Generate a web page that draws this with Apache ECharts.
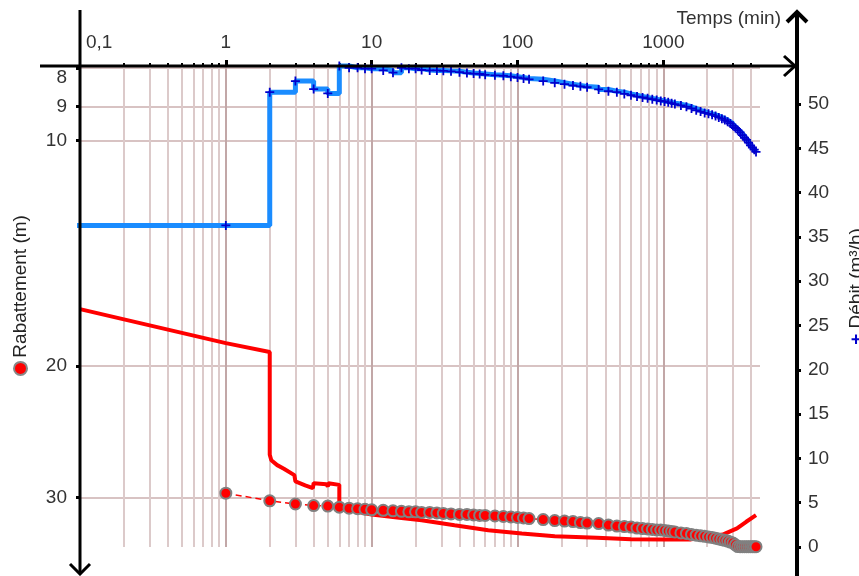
<!DOCTYPE html>
<html>
<head>
<meta charset="utf-8">
<script src="https://cdn.jsdelivr.net/npm/echarts@6/dist/echarts.min.js"></script>
<style>
  html, body { margin: 0; padding: 0; background: #fff; }
  #chart { width: 859px; height: 576px; }
</style>
</head>
<body>
<div id="chart"></div>
<script>
// temps des mesures (min)
const temps = [1, 2, 3, 4, 5, 6, 7, 8, 9, 10, 12, 14, 16, 18, 20, 22, 25, 28, 31, 35,
  40, 45, 50, 55, 60, 70, 80, 90, 100, 110, 120, 150, 180, 210, 240, 270, 300, 360, 420, 480,
  540, 600, 660, 720, 780, 840, 900, 960, 1020, 1080, 1140, 1200, 1320, 1440, 1560, 1680, 1800, 1920, 2040, 2160,
  2280, 2400, 2520, 2640, 2760, 2880, 3000, 3120, 3240, 3360, 3480, 3600, 3720, 3840, 3960, 4080, 4200, 4320];

// débit mesuré (m3/h)
const debit = [36.3, 51.35, 52.6, 51.7, 51.2, 54.3, 54.1, 54.1, 54.0, 54.0, 53.8, 53.55, 54.1, 54.0, 54.0, 53.85, 53.8, 53.8, 53.75, 53.7,
  53.6, 53.5, 53.45, 53.4, 53.3, 53.25, 53.2, 53.1, 53.0, 52.9, 52.8, 52.6, 52.4, 52.25, 52.1, 52.0, 51.9, 51.65, 51.45, 51.35,
  51.15, 51.0, 50.85, 50.75, 50.65, 50.55, 50.45, 50.35, 50.3, 50.2, 50.1, 50.0, 49.85, 49.7, 49.5, 49.3, 49.15, 49.0, 48.9, 48.8,
  48.65, 48.5, 48.35, 48.2, 48.0, 47.8, 47.55, 47.3, 47.05, 46.8, 46.5, 46.2, 45.95, 45.65, 45.35, 45.1, 44.85, 44.6];

// rabattement mesuré (m)
const rabattement = [29.6, 30.3, 30.6, 30.75, 30.8, 30.9, 31.0, 31.05, 31.1, 31.15, 31.2, 31.25, 31.3, 31.35, 31.35, 31.4, 31.4, 31.45, 31.5, 31.55,
  31.6, 31.6, 31.65, 31.7, 31.7, 31.75, 31.8, 31.85, 31.9, 31.95, 32.0, 32.1, 32.2, 32.25, 32.3, 32.4, 32.45, 32.5, 32.65, 32.75,
  32.8, 32.85, 32.95, 33.0, 33.05, 33.1, 33.15, 33.15, 33.2, 33.25, 33.3, 33.35, 33.45, 33.5, 33.6, 33.68, 33.75, 33.8, 33.87, 33.92,
  34.0, 34.08, 34.15, 34.22, 34.3, 34.4, 34.5, 34.7, 34.88, 34.9, 34.9, 34.9, 34.9, 34.9, 34.9, 34.9, 34.9, 34.9];

// palier de débit avant la première mesure
const debutDebit = [0.085, 36.3];

// courbe calculée (modèle)
const tempsModele = [0.1, 1, 2, 2, 2.05, 2.25, 2.5, 2.95, 3, 3.5, 3.95, 4, 4.9, 5, 5.05, 6, 6,
  10, 16, 22, 37, 63, 107, 180, 350, 600, 1000, 1550, 2100, 2600, 3200, 3700, 4320];
const rabattementModele = [16.8, 18.65, 19.17, 26.3, 26.75, 27.15, 27.45, 28.0, 28.55, 28.9, 29.15, 28.7, 28.8, 29.0, 28.7, 28.85, 31.0,
  31.6, 31.96, 32.16, 32.66, 33.17, 33.5, 33.79, 33.96, 34.1, 34.12, 34.12, 33.86, 33.58, 32.99, 32.32, 31.66];

// graduations
const graduationsTemps = [0.1, 1, 10, 100, 1000];
const graduationsTempsSecondaires = [0.2, 0.3, 0.4, 0.5, 0.6, 0.7, 0.8, 0.9, 2, 3, 4, 5, 6, 7, 8, 9,
  20, 30, 40, 50, 60, 70, 80, 90, 200, 300, 400, 500, 600, 700, 800, 900, 2000, 3000, 4000];
const graduationsRabattement = [8, 9, 10, 20, 30];
const graduationsDebit = [0, 5, 10, 15, 20, 25, 30, 35, 40, 45, 50];

const font = 'Liberation Sans, Arial, sans-serif';
const txt = '#333';
const plusPath = 'path://M4,0 H6 V4 H10 V6 H6 V10 H4 V6 H0 V4 H4 Z';

const chart = echarts.init(document.getElementById('chart'));

// axes prolongés avec flèches
const axisArrows = [
  [[40, 66], [795, 66]],
  [[784, 56], [795, 66], [784, 76]],
  [[80, 10], [80, 574]],
  [[70, 564], [80, 574], [90, 564]]
].map(pts => ({
  type: 'polyline', silent: true, z: 100,
  shape: { points: pts },
  style: { stroke: '#000', lineWidth: 3, fill: null }
})).concat([
  [[797, 12], [797, 576]],
  [[787, 22], [797, 12], [807, 22]]
].map(pts => ({
  type: 'polyline', silent: true, z: 100,
  shape: { points: pts },
  style: { stroke: '#000', lineWidth: 4, fill: null }
})));

const option = {
  animation: false,
  textStyle: { fontFamily: font },
  grid: { left: 80, top: 66, width: 680, height: 481, outerBoundsMode: 'none' },
  graphic: axisArrows,
  xAxis: [
    {
      type: 'log', logBase: 10, min: 0.1, max: 4600, position: 'top',
      axisLine: { show: false, onZero: false },
      axisTick: { customValues: [1, 10, 100, 1000], length: 6, lineStyle: { color: '#000', width: 3 } },
      axisLabel: {
        customValues: graduationsTemps, margin: 14, fontSize: 19, color: txt,
        alignMinLabel: 'left',
        formatter: v => {
          const s = String(parseFloat(Number(v).toPrecision(6))).replace('.', ',');
          return Math.abs(v - 0.1) < 1e-9 ? '{first|' + s + '}' : s;
        },
        rich: { first: { fontSize: 19, color: txt, padding: [0, 0, 0, 6] } }
      },
      splitLine: { show: true, lineStyle: { color: '#c2a7a7', width: 2 } },
      name: 'Temps (min)', nameLocation: 'end', nameGap: 21,
      nameTextStyle: { fontSize: 19, color: txt, align: 'right', verticalAlign: 'bottom', padding: [0, 0, 38, 0] }
    },
    {
      // quadrillage secondaire
      type: 'log', logBase: 10, min: 0.1, max: 4600, position: 'top',
      axisLine: { show: false, onZero: false },
      axisTick: { customValues: graduationsTempsSecondaires, length: 3, lineStyle: { color: '#000', width: 2 } },
      axisLabel: { show: false },
      splitLine: { show: true, lineStyle: { color: '#dccaca', width: 2 } }
    }
  ],
  yAxis: [
    {
      type: 'log', logBase: 10, inverse: true, min: 7.95, max: 34.93, position: 'left',
      axisLine: { show: false, onZero: false },
      axisTick: { customValues: graduationsRabattement, length: 4, lineStyle: { color: '#000', width: 3 } },
      axisLabel: { customValues: graduationsRabattement, margin: 13, fontSize: 19, color: txt, verticalAlignMinLabel: 'top' },
      splitLine: { show: true, lineStyle: { color: '#d8c3c3', width: 2 } },
      name: '{dot| } Rabattement (m)', nameLocation: 'middle', nameRotate: 90, nameGap: 50,
      nameTextStyle: {
        fontSize: 19, color: '#222', padding: [0, 0, 0, 24],
        rich: { dot: { width: 11, height: 11, borderRadius: 7, backgroundColor: '#ff0000', borderColor: '#888', borderWidth: 2 } }
      }
    },
    {
      type: 'value', min: 0, max: 54.3, position: 'right', offset: 37,
      axisLine: { show: false, onZero: false },
      axisTick: { customValues: graduationsDebit, length: 4, lineStyle: { color: '#000', width: 3 } },
      axisLabel: { customValues: graduationsDebit, margin: 11, fontSize: 19, color: txt },
      splitLine: { show: false },
      name: '{plus|+} Débit (m³/h)', nameLocation: 'middle', nameRotate: 90, nameGap: 50,
      nameTextStyle: {
        fontSize: 19, color: '#222', padding: [0, 0, 0, 40],
        rich: { plus: { fontSize: 19, fontWeight: 'bold', color: '#0000cd' } }
      }
    }
  ],
  series: [
    {
      name: 'Débit', type: 'line', xAxisIndex: 0, yAxisIndex: 1, step: 'end', clip: false, z: 3,
      data: [{ value: debutDebit, symbol: 'none' }].concat(temps.map((t, i) => [t, debit[i]])),
      symbol: plusPath, symbolSize: 9,
      itemStyle: { color: '#0000cd' },
      lineStyle: { color: '#1a8cff', width: 5 }
    },
    {
      name: 'Modèle', type: 'line', xAxisIndex: 0, yAxisIndex: 0, z: 2,
      data: tempsModele.map((t, i) => [t, rabattementModele[i]]),
      symbol: 'none',
      lineStyle: { color: '#ff0000', width: 4 }
    },
    {
      name: 'Rabattement', type: 'line', xAxisIndex: 0, yAxisIndex: 0, z: 4,
      data: temps.map((t, i) => [t, rabattement[i]]),
      symbol: 'circle', symbolSize: 11,
      itemStyle: { color: '#ff0000', borderColor: '#808080', borderWidth: 2 },
      lineStyle: { color: '#ff0000', width: 1.5, type: [6, 4] }
    }
  ]
};

chart.setOption(option);
window.addEventListener('resize', () => chart.resize());
</script>
</body>
</html>
